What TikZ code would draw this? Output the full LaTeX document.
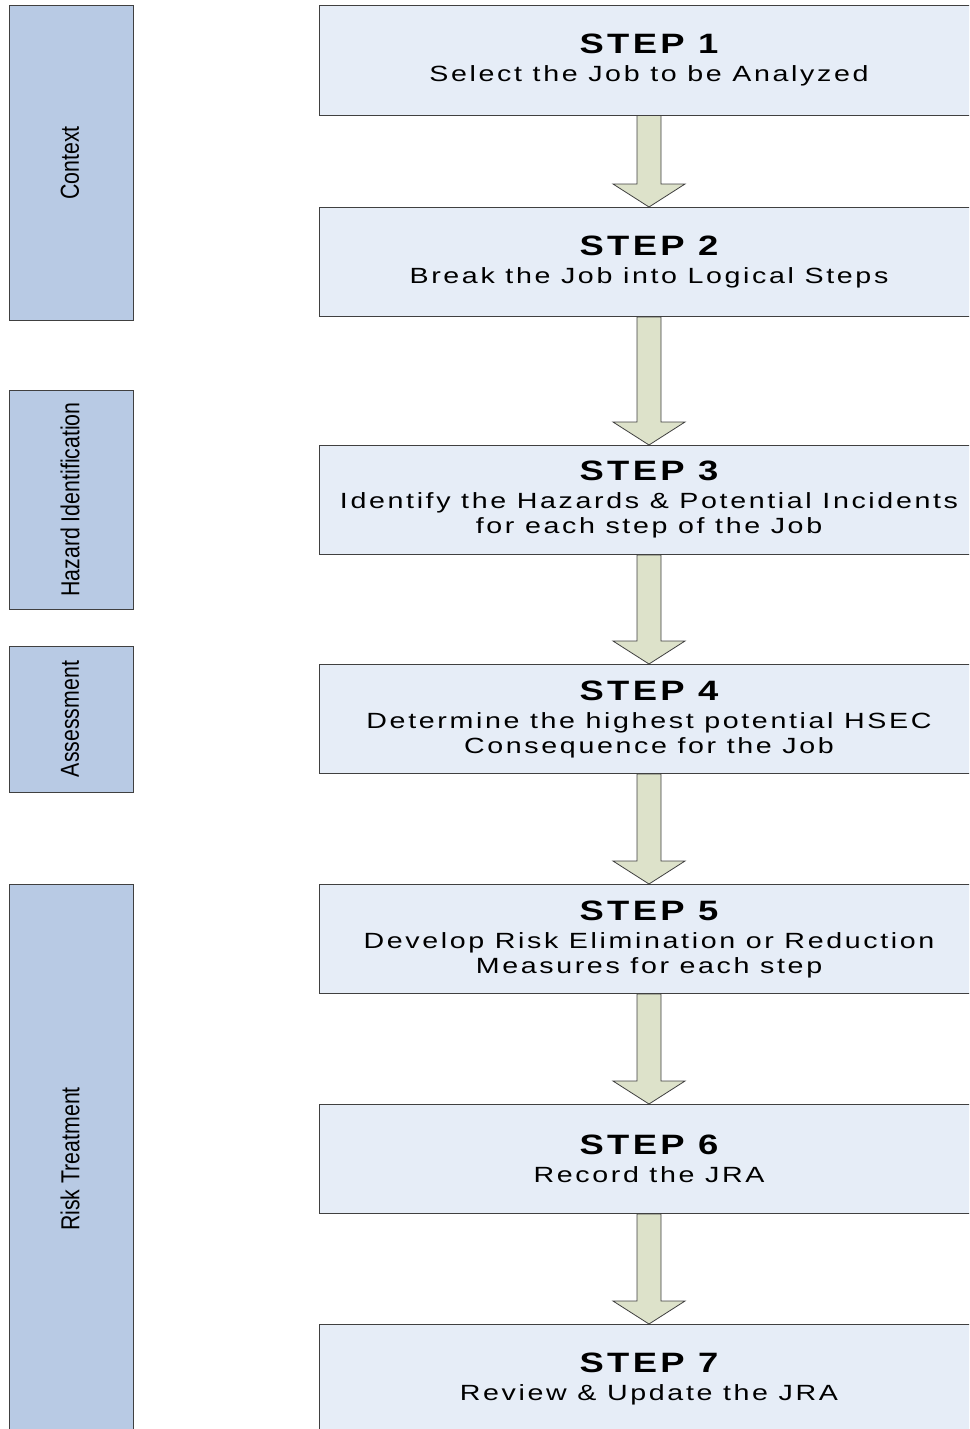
\documentclass[tikz,border=0pt]{standalone}
\usepackage{fontspec}
\usetikzlibrary{calc}
\setmainfont{Liberation Sans}
\newfontfamily\stepfont[FakeStretch=1.3,LetterSpace=12]{Liberation Sans}
\newfontfamily\sidefont[FakeStretch=0.82]{Liberation Sans}
\definecolor{stepfill}{HTML}{E6EDF7}
\definecolor{sidefill}{HTML}{B8CAE4}
\definecolor{arrowfill}{HTML}{DDE2CA}
\definecolor{edgegray}{HTML}{404040}
\tikzset{
  stepbox/.style={draw=edgegray, line width=1pt, fill=stepfill, rectangle,
    minimum width=660pt, minimum height=109pt, inner sep=0pt, align=center,
    font=\stepfont\fontsize{22}{25}\selectfont},
  sidebox/.style={draw=edgegray, line width=1pt, fill=sidefill, rectangle,
    minimum width=124pt, inner sep=0pt},
  sidelabel/.style={rotate=90, inner sep=0pt, font=\sidefont\fontsize{26}{28}\selectfont},
  bigarrow/.style={draw=edgegray, line width=0.8pt, fill=arrowfill, line join=miter},
}
\newcommand{\steptitle}[1]{{\fontsize{28}{28}\selectfont\bfseries #1}\\[3pt]}
\newcommand{\flowarrow}[2]{%
  \path[bigarrow] let \p1=(#1.south), \p2=(#2.north) in
    (\x1-12pt,\y1) -- (\x1-12pt,\y2+23pt) -- (\x1-36pt,\y2+23pt) -- (\x2,\y2)
    -- (\x1+36pt,\y2+23pt) -- (\x1+12pt,\y2+23pt) -- (\x1+12pt,\y1) -- cycle;}
\begin{document}
\begin{tikzpicture}[x=1pt,y=-1pt]
\useasboundingbox (0,0) rectangle (969,1429);
\clip (0,0) rectangle (969,1429);
% side boxes
\node[sidebox, minimum height=314pt] (ctx) at (71,163) {};
\node[sidelabel] (ctxl) at (70,163) {Context};
\node[sidebox, minimum height=219pt] (haz) at (71,499.5) {};
\node[sidelabel] (hazl) at (70,499.5) {Hazard Identification};
\node[sidebox, minimum height=146pt] (ass) at (71,719) {};
\node[sidelabel] (assl) at (70,719) {Assessment};
\node[sidebox, minimum height=550pt] (risk) at (71,1159) {};
\node[sidelabel] (riskl) at (70,1159) {Risk Treatment};
% step boxes
\node[stepbox] (s1) at (649,60.5) {\steptitle{STEP 1}Select the Job to be Analyzed};
\node[stepbox] (s2) at (649,262) {\steptitle{STEP 2}Break the Job into Logical Steps};
\node[stepbox] (s3) at (649,500) {\steptitle{STEP 3}Identify the Hazards \& Potential Incidents\\for each step of the Job};
\node[stepbox] (s4) at (649,719) {\steptitle{STEP 4}Determine the highest potential HSEC\\Consequence for the Job};
\node[stepbox] (s5) at (649,939) {\steptitle{STEP 5}Develop Risk Elimination or Reduction\\Measures for each step};
\node[stepbox] (s6) at (649,1159) {\steptitle{STEP 6}Record the JRA};
\node[stepbox] (s7) at (649,1379) {\steptitle{STEP 7}Review \& Update the JRA};
% arrows
\flowarrow{s1}{s2}
\flowarrow{s2}{s3}
\flowarrow{s3}{s4}
\flowarrow{s4}{s5}
\flowarrow{s5}{s6}
\flowarrow{s6}{s7}
\end{tikzpicture}
\end{document}
